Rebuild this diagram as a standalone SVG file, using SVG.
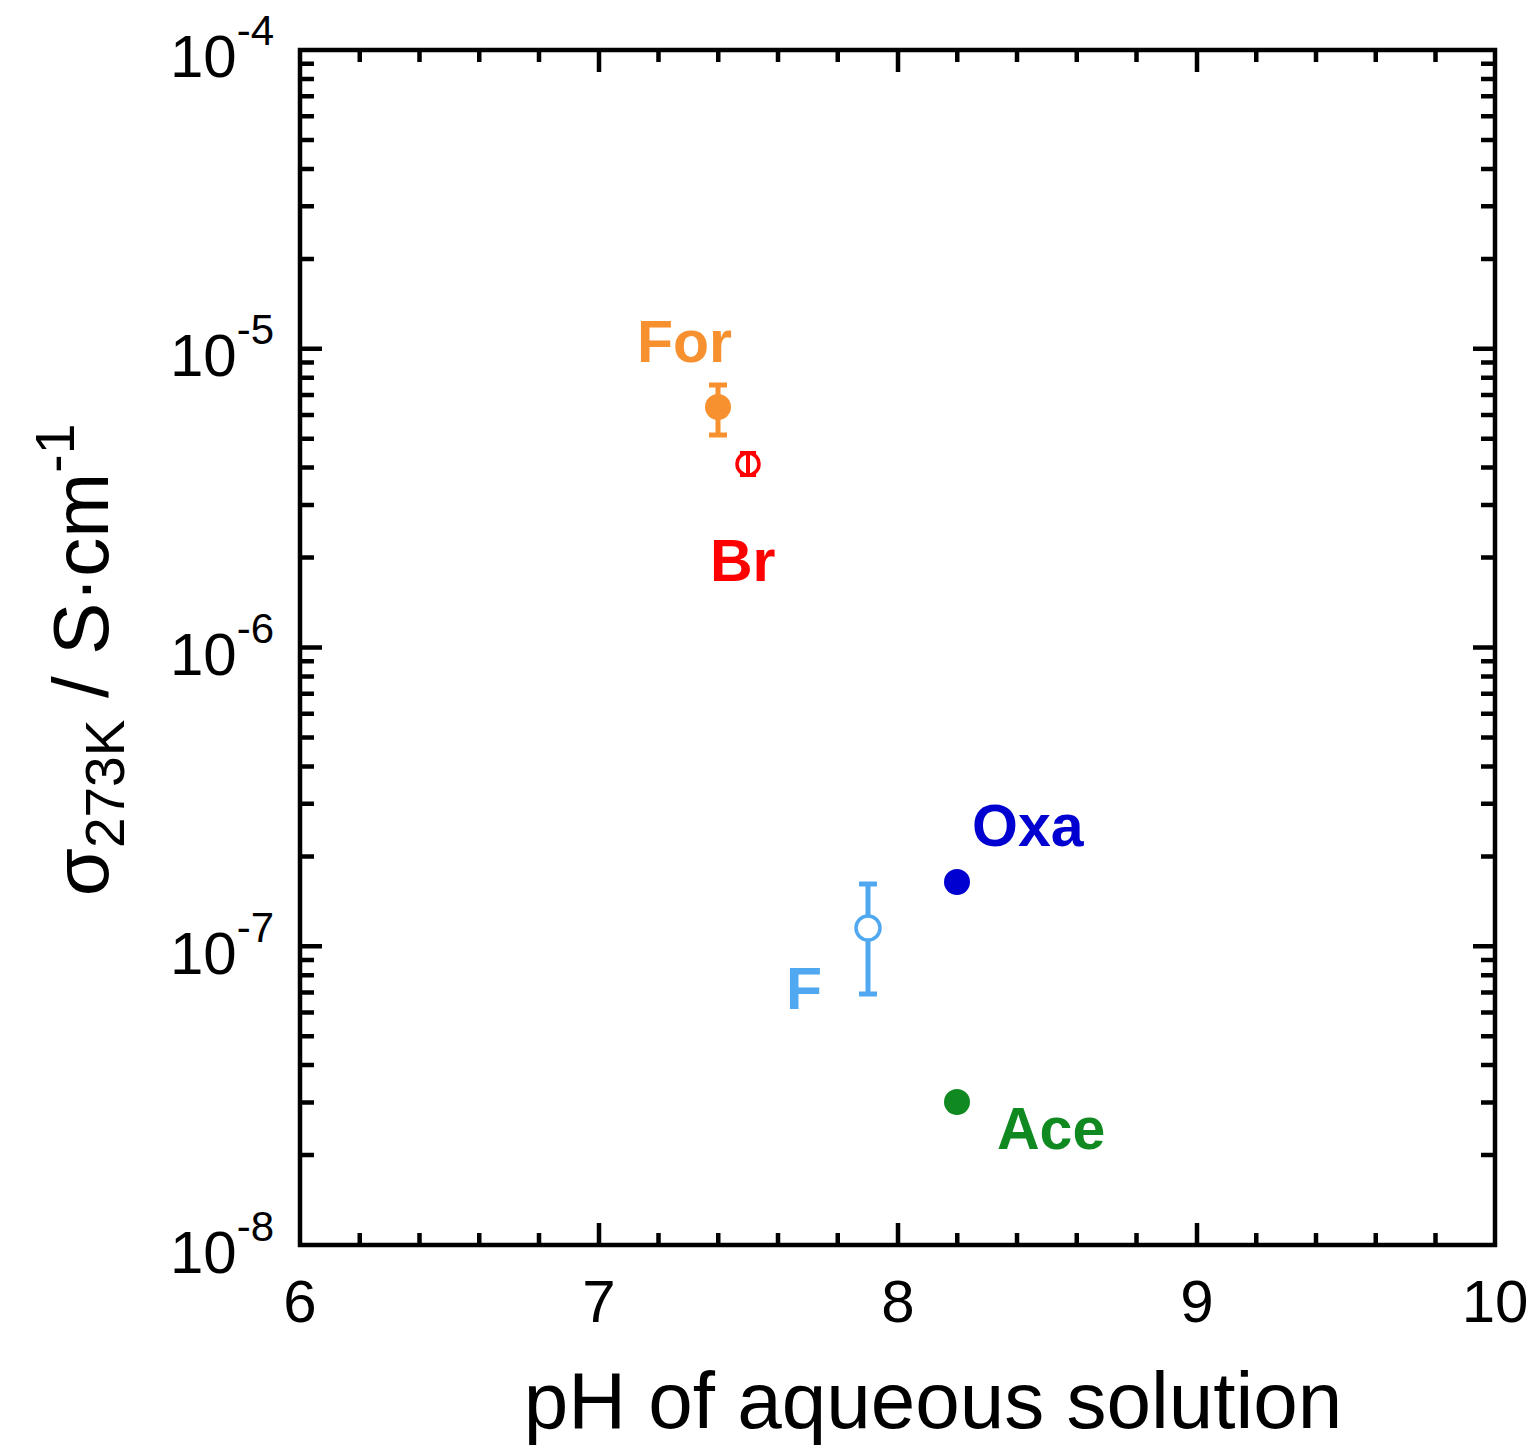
<svg xmlns="http://www.w3.org/2000/svg" width="1536" height="1455" viewBox="0 0 1536 1455">
<style>
.ax{fill:none;stroke:#000;stroke-width:4.5}
.t{font-family:"Liberation Sans",Arial,sans-serif;font-size:60px;fill:#000}
.lb{font-family:"Liberation Sans",Arial,sans-serif;font-size:59px;font-weight:bold}
</style>
<rect width="1536" height="1455" fill="#fff"/>
<g id="axes">
<rect class="ax" x="300" y="50" width="1195" height="1195"/>
<path class="ax" d="M599,1245v-22M898,1245v-22M1197,1245v-22M599,50v22M898,50v22M1197,50v22
M359.75,1245v-12M419.5,1245v-12M479.25,1245v-12M539,1245v-12M658.5,1245v-12M718.25,1245v-12M778,1245v-12M837.75,1245v-12M957.25,1245v-12M1017,1245v-12M1076.75,1245v-12M1136.5,1245v-12M1256.25,1245v-12M1316,1245v-12M1375.75,1245v-12M1435.5,1245v-12
M359.75,50v12M419.5,50v12M479.25,50v12M539,50v12M658.5,50v12M718.25,50v12M778,50v12M837.75,50v12M957.25,50v12M1017,50v12M1076.75,50v12M1136.5,50v12M1256.25,50v12M1316,50v12M1375.75,50v12M1435.5,50v12
M300,946.25h22M300,647.5h22M300,348.75h22M1495,946.25h-22M1495,647.5h-22M1495,348.75h-22"/>
<path class="ax" id="ym" d="M300,1155.1h14M300,1102.5h14M300,1065.1h14M300,1036.2h14M300,1012.5h14M300,992.5h14M300,975.2h14M300,959.9h14
M300,856.4h14M300,803.8h14M300,766.4h14M300,737.5h14M300,713.8h14M300,693.8h14M300,676.5h14M300,661.2h14
M300,557.6h14M300,505h14M300,467.6h14M300,438.7h14M300,415h14M300,395h14M300,377.7h14M300,362.4h14
M300,258.9h14M300,206.3h14M300,168.9h14M300,140h14M300,116.3h14M300,96.3h14M300,79h14M300,63.7h14"/>
<use href="#ym" transform="translate(1795,0) scale(-1,1)"/>
</g>
<g id="ticklabels" class="t">
<text x="300" y="1322" text-anchor="middle">6</text>
<text x="599" y="1322" text-anchor="middle">7</text>
<text x="898" y="1322" text-anchor="middle">8</text>
<text x="1197" y="1322" text-anchor="middle">9</text>
<text x="1495" y="1322" text-anchor="middle">10</text>
<text x="170" y="77">10<tspan font-size="42" dy="-32">-4</tspan></text>
<text x="170" y="376">10<tspan font-size="42" dy="-32">-5</tspan></text>
<text x="170" y="675">10<tspan font-size="42" dy="-32">-6</tspan></text>
<text x="170" y="974">10<tspan font-size="42" dy="-32">-7</tspan></text>
<text x="170" y="1273">10<tspan font-size="42" dy="-32">-8</tspan></text>
</g>
<g id="titles" font-family="Liberation Sans,Arial,sans-serif" fill="#000">
<text x="933" y="1428" font-size="80" text-anchor="middle">pH of aqueous solution</text>
<text transform="translate(108,660) rotate(-90)" font-size="78" text-anchor="middle">σ<tspan font-size="55" dy="16">273K</tspan><tspan dy="-16"> / S·cm</tspan><tspan font-size="55" dy="-34">-1</tspan></text>
</g>
<g id="For">
<path d="M718,385v50M709,385h18M709,435h18" stroke="#f7902f" stroke-width="5"/>
<circle cx="718" cy="407" r="13" fill="#f7902f"/>
<text class="lb" x="637" y="362" fill="#f7902f">For</text>
</g>
<g id="Br">
<path d="M748,453v22M740,453h16M740,475h16" stroke="#ff0000" stroke-width="4"/>
<circle cx="748" cy="464" r="11" fill="none" stroke="#ff0000" stroke-width="3.5"/>
<text class="lb" x="710" y="581" fill="#ff0000">Br</text>
</g>
<g id="F">
<path d="M868,884v110M859,884h18M859,994h18" stroke="#4fa8f0" stroke-width="5"/>
<circle cx="868" cy="928" r="12" fill="#fff" stroke="#4fa8f0" stroke-width="3.5"/>
<text class="lb" x="786" y="1009" fill="#4fa8f0">F</text>
</g>
<g id="Oxa">
<circle cx="957" cy="882" r="13" fill="#0000d0"/>
<text class="lb" x="972" y="846" fill="#0000d0">Oxa</text>
</g>
<g id="Ace">
<circle cx="957" cy="1102" r="13" fill="#108a20"/>
<text class="lb" x="997" y="1149" fill="#108a20">Ace</text>
</g>
</svg>
